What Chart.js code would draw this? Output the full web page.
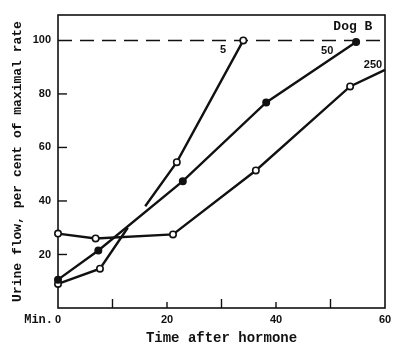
<!DOCTYPE html>
<html>
<head>
<meta charset="utf-8">
<script src="https://cdn.jsdelivr.net/npm/chart.js@4.4.1/dist/chart.umd.min.js"></script>
<style>
  html, body { margin: 0; padding: 0; background: #fff; }
  #wrap { width: 394px; height: 347px; }
</style>
</head>
<body>
<div id="wrap"><canvas id="myChart" width="394" height="347"></canvas></div>
<script>
// minutes after hormone / urine flow (% of maximal rate)
const time5 = [0, 7.7, 12.8, null, 16, 21.8, 34];
const flow5 = [9, 14.7, 30, null, 38, 54.5, 100];

const time50 = [0, 7.4, 22.9, 38.2, 54.7];
const flow50 = [10.6, 21.5, 47.4, 76.8, 99.4];

const time250 = [0, 6.9, 21.1, 36.3, 53.6, 60];
const flow250 = [27.8, 26, 27.5, 51.4, 82.8, 89];

const xTickLabels = ['0', '20', '40', '60'];
const yTickLabels = ['20', '40', '60', '80', '100'];
const maxRate = 100;

const TXT = "'Liberation Mono', monospace";
const NUM = "bold 11px 'Liberation Sans', sans-serif";

// a null entry breaks the line (y: null keeps the gap)
function toPoints(xs, ys) {
    return xs.map((x, i) => (x === null ? { x: xs[i - 1], y: null } : { x: x, y: ys[i] }));
}

// frame, inside ticks, dashed 100 line, labels
const decor = {
    id: 'decor',
    beforeDatasetsDraw(chart) {
        const c = chart.ctx;
        const a = chart.chartArea;
        const xs = chart.scales.x;
        const ys = chart.scales.y;
        c.save();
        c.strokeStyle = '#111';
        c.lineWidth = 1.6;
        c.strokeRect(a.left, a.top, a.right - a.left, a.bottom - a.top);

        // tick marks pointing inward
        c.lineWidth = 1.4;
        for (let v = 10; v < 60; v += 10) {
            const px = xs.getPixelForValue(v);
            c.beginPath();
            c.moveTo(px, a.bottom);
            c.lineTo(px, a.bottom - (v % 20 === 0 ? 6 : 9));
            c.stroke();
        }
        for (let v = 20; v < 100; v += 20) {
            const py = ys.getPixelForValue(v);
            c.beginPath();
            c.moveTo(a.left, py);
            c.lineTo(a.left + 9, py);
            c.stroke();
        }

        // maximal rate
        c.setLineDash([14, 8]);
        c.lineWidth = 1.5;
        const y100 = ys.getPixelForValue(maxRate);
        c.beginPath();
        c.moveTo(a.left, y100);
        c.lineTo(a.right, y100);
        c.stroke();
        c.setLineDash([]);

        // tick labels
        c.fillStyle = '#111';
        c.font = NUM;
        c.textAlign = 'right';
        c.textBaseline = 'middle';
        yTickLabels.forEach(t => {
            c.fillText(t, a.left - 7, ys.getPixelForValue(Number(t)));
        });
        c.textAlign = 'center';
        c.textBaseline = 'top';
        xTickLabels.forEach(t => {
            c.fillText(t, xs.getPixelForValue(Number(t)), a.bottom + 6);
        });
        c.textAlign = 'right';
        c.font = 'bold 12px ' + TXT;
        c.fillText('Min.', xs.getPixelForValue(0) - 5, a.bottom + 6);

        // axis titles
        c.font = 'bold 14px ' + TXT;
        c.textAlign = 'center';
        c.textBaseline = 'middle';
        c.fillText('Time after hormone', (a.left + a.right) / 2, a.bottom + 30);
        c.save();
        c.translate(18, (a.top + a.bottom) / 2);
        c.rotate(-Math.PI / 2);
        c.font = 'bold 13px ' + TXT;
        c.fillText('Urine flow, per cent of maximal rate', 0, 0);
        c.restore();

        // curve labels
        c.font = NUM;
        c.fillText('5', xs.getPixelForValue(30.3), ys.getPixelForValue(96.5));
        c.fillText('50', xs.getPixelForValue(49.4), ys.getPixelForValue(96));
        c.fillText('250', xs.getPixelForValue(57.8), ys.getPixelForValue(91));
        c.font = 'bold 13px ' + TXT;
        c.fillText('Dog B', xs.getPixelForValue(54.1), ys.getPixelForValue(105.3));
        c.restore();
    }
};

const lineStyle = {
    borderColor: '#111',
    borderWidth: 2.4,
    pointBorderColor: '#111',
    pointBorderWidth: 1.6,
    pointRadius: 3.2,
    tension: 0,
    spanGaps: false,
    clip: false
};

let ctx = document.querySelector('#myChart').getContext('2d');
let myChart = new Chart(ctx, {
    type: 'line',
    data: {
        datasets: [
            Object.assign({}, lineStyle, {
                label: '250',
                data: toPoints(time250, flow250),
                pointBackgroundColor: '#fff',
                pointRadius: c => (c.dataIndex === time250.length - 1 ? 0 : 3.2)
            }),
            Object.assign({}, lineStyle, {
                label: '50',
                data: toPoints(time50, flow50),
                pointBackgroundColor: '#111'
            }),
            Object.assign({}, lineStyle, {
                label: '5',
                data: toPoints(time5, flow5),
                pointBackgroundColor: '#fff',
                pointRadius: c => (c.dataIndex === 2 || c.dataIndex === 4 ? 0 : 3.2)
            })
        ]
    },
    options: {
        responsive: false,
        animation: false,
        events: [],
        layout: { padding: { top: 15, right: 9, left: 0, bottom: 0 } },
        plugins: { legend: { display: false }, tooltip: { enabled: false } },
        scales: {
            x: {
                type: 'linear',
                min: 0,
                max: 60,
                grid: { display: false },
                border: { display: false },
                ticks: { display: false },
                afterFit: s => { s.height = 39; }
            },
            y: {
                min: 0,
                max: 109.5,
                grid: { display: false },
                border: { display: false },
                ticks: { display: false },
                afterFit: s => { s.width = 58; }
            }
        }
    },
    plugins: [decor]
});
</script>
</body>
</html>
